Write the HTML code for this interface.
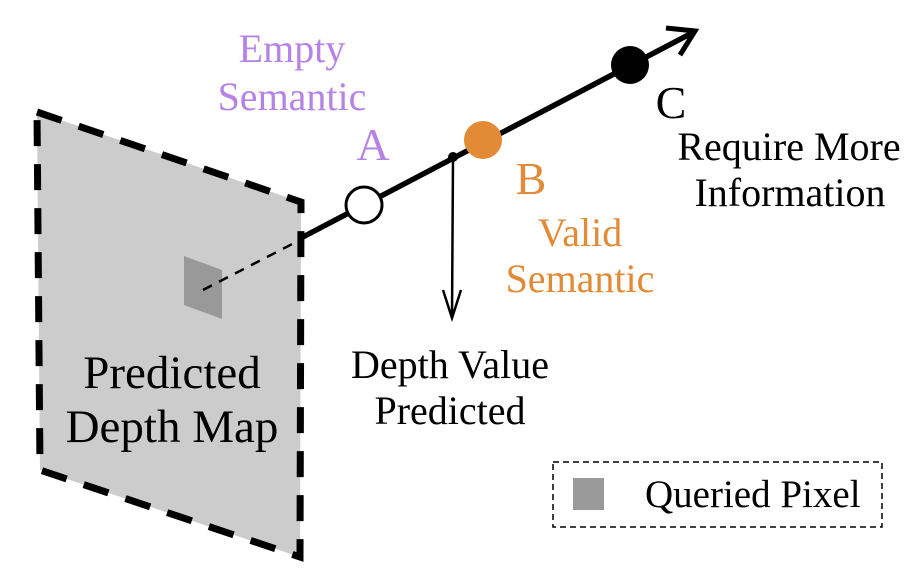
<!DOCTYPE html>
<html><head><meta charset="utf-8"><style>body{margin:0;background:#fff}svg{display:block}text{font-family:"Liberation Serif",serif}</style></head><body>
<svg width="922" height="570" viewBox="0 0 922 570">
<polygon points="37,112 301,202 300,557 40,470" fill="#cccccc"/>
<polygon points="37,112 301,202 300,557 40,470" fill="none" stroke="#000" stroke-width="7" stroke-dasharray="26,18"/>
<polygon points="184,256 222,270 222,319 184,305" fill="#999"/>
<line x1="203" y1="290" x2="300" y2="240" stroke="#000" stroke-width="2.5" stroke-dasharray="10,8"/>
<line x1="301" y1="238" x2="692" y2="33" stroke="#000" stroke-width="5.5"/>
<polyline points="666,28 695,31 680,55" fill="none" stroke="#000" stroke-width="5"/>
<circle cx="364" cy="205" r="18" fill="#fff" stroke="#000" stroke-width="3"/>
<circle cx="453" cy="157" r="5" fill="#000"/>
<circle cx="483" cy="140" r="19" fill="#E28A35"/>
<circle cx="630" cy="65" r="19" fill="#000"/>
<line x1="453" y1="157" x2="452" y2="318" stroke="#000" stroke-width="2.5"/>
<polyline points="443,290 452,318 461,290" fill="none" stroke="#000" stroke-width="2.5"/>
<g fill="#B583E6" font-size="40" text-anchor="middle">
<text x="292" y="62">Empty</text><text x="292" y="110">Semantic</text>
<text x="373" y="160" font-size="46">A</text></g>
<g fill="#E28A35" font-size="40" text-anchor="middle">
<text x="531" y="194" font-size="46">B</text>
<text x="580" y="246">Valid</text><text x="580" y="292">Semantic</text></g>
<g fill="#000" font-size="40" text-anchor="middle">
<text x="671" y="118" font-size="46">C</text>
<text x="789" y="160">Require More</text><text x="790" y="206">Information</text>
<text x="450" y="378">Depth Value</text><text x="450" y="424">Predicted</text>
<text x="172" y="388" font-size="47">Predicted</text><text x="172" y="442" font-size="47">Depth Map</text>
<text x="645" y="507" font-size="39" text-anchor="start">Queried Pixel</text></g>
<rect x="553" y="462" width="329" height="65" fill="none" stroke="#000" stroke-width="1.5" stroke-dasharray="6,4"/>
<rect x="573" y="478" width="31" height="32" fill="#999"/>
</svg>
</body></html>
